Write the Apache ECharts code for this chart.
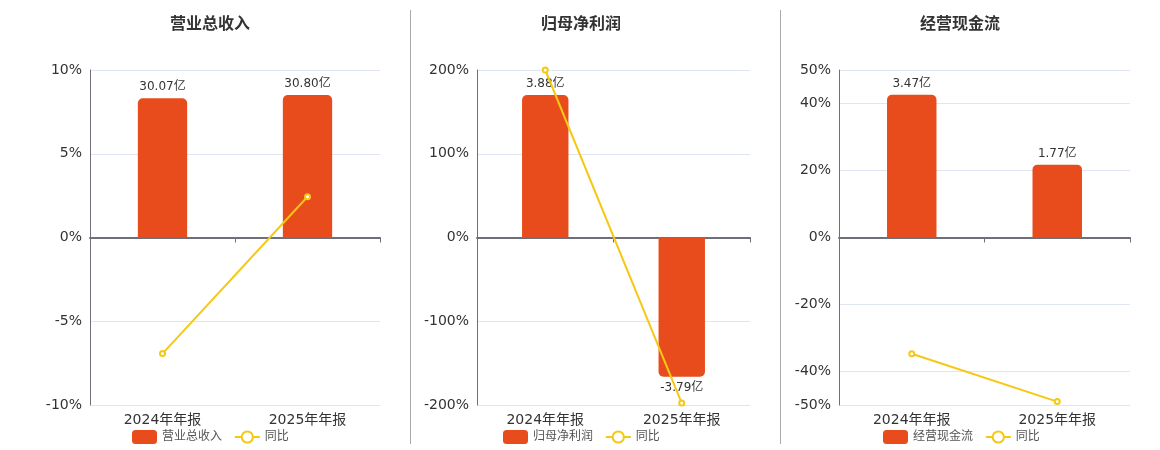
<!DOCTYPE html>
<html>
<head>
<meta charset="utf-8">
<script src="https://cdn.jsdelivr.net/npm/echarts@6/dist/echarts.min.js"></script>
<style>
html,body{margin:0;padding:0;background:#fff;}
#c{width:1160px;height:450px;}
</style>
</head>
<body>
<div id="c"></div>
<script>
const categories = ['2024年年报', '2025年年报'];
const titles = ['营业总收入', '归母净利润', '经营现金流'];
const barNames = ['营业总收入', '归母净利润', '经营现金流'];
const revenue = [30.07, 30.80];
const revenueYoY = [-6.93, 2.43];
const netProfit = [3.88, -3.79];
const netProfitYoY = [200, -197.7];
const cashFlow = [3.47, 1.77];
const cashFlowYoY = [-34.7, -48.99];
const pctTicks = [
  [-10, -5, 0, 5, 10],
  [-200, -100, 0, 100, 200],
  [-50, -40, -20, 0, 20, 40, 50]
];
const barAxisMax = [36.2, 4.56, 4.07];

const barData = [revenue, netProfit, cashFlow];
const lineData = [revenueYoY, netProfitYoY, cashFlowYoY];

const grids = [
  {left: 90, width: 290, top: 70, height: 335},
  {left: 477, width: 273, top: 70, height: 335},
  {left: 839, width: 291, top: 70, height: 335}
];
const centers = [205, 576, 955];
const legendLefts = [127, 498, 878];

const FONT = '"DejaVu Sans", "Noto Sans CJK SC", sans-serif';
const BAR = '#e84c1d';
const LINE = '#f5c814';

const option = {
  animation: false,
  textStyle: {fontFamily: FONT},
  title: titles.map((t, i) => ({
    text: t, left: centers[i], top: 12, textAlign: 'center',
    textStyle: {fontSize: 16, fontWeight: 'bold', color: '#333', fontFamily: FONT}
  })),
  legend: titles.map((t, i) => ({
    data: [barNames[i] + ' ', '同比' + ' '.repeat(i)],
    left: legendLefts[i], top: 425, itemWidth: 25, itemHeight: 14,
    textStyle: {fontSize: 12, color: '#555', fontFamily: FONT}
  })),
  grid: grids.map(g => Object.assign({containLabel: false}, g)),
  xAxis: [],
  yAxis: [],
  series: [],
  graphic: [
    {type: 'line', shape: {x1: 410.5, y1: 10, x2: 410.5, y2: 444}, style: {stroke: '#aaa', lineWidth: 1}},
    {type: 'line', shape: {x1: 780.5, y1: 10, x2: 780.5, y2: 444}, style: {stroke: '#aaa', lineWidth: 1}}
  ]
};

for (let i = 0; i < 3; i++) {
  const ticks = pctTicks[i];
  // label axis at bottom
  option.xAxis.push({
    type: 'category', gridIndex: i, data: categories, position: 'bottom',
    axisLine: {show: false, onZero: false}, axisTick: {show: false},
    axisLabel: {fontSize: 14, color: '#333', margin: 8, fontFamily: FONT}
  });
  // zero line axis
  option.xAxis.push({
    type: 'category', gridIndex: i, data: categories, position: 'bottom',
    axisLine: {show: true, onZero: true, onZeroAxisIndex: i * 2, lineStyle: {color: '#6e7079', width: 2}},
    axisTick: {show: true, length: 5, lineStyle: {color: '#6e7079'}},
    axisLabel: {show: false}
  });
  option.yAxis.push({
    type: 'value', gridIndex: i, min: ticks[0], max: ticks[ticks.length - 1],
    axisLine: {show: true, lineStyle: {color: '#6e7079'}},
    axisTick: {show: false, customValues: ticks},
    axisLabel: {fontSize: 14, color: '#333', formatter: '{value}%', fontFamily: FONT, customValues: ticks},
    splitLine: {show: true, lineStyle: {color: '#e0e6f1'}}
  });
  option.yAxis.push({
    type: 'value', gridIndex: i, min: -barAxisMax[i], max: barAxisMax[i], show: false,
    splitLine: {show: false}
  });
  option.series.push({
    name: barNames[i] + ' ', type: 'bar', xAxisIndex: i * 2, yAxisIndex: i * 2 + 1,
    barWidth: '34%', color: BAR,
    data: barData[i].map(v => ({
      value: v,
      itemStyle: {color: BAR, borderRadius: v >= 0 ? [5, 5, 0, 0] : [0, 0, 5, 5]},
      label: {show: true, position: v >= 0 ? 'top' : 'bottom', formatter: v.toFixed(2) + '亿',
        fontSize: 12, color: '#333', fontFamily: FONT}
    })),
    z: 2
  });
  option.series.push({
    name: '同比' + ' '.repeat(i), type: 'line', xAxisIndex: i * 2, yAxisIndex: i * 2,
    data: lineData[i], color: LINE,
    symbol: 'emptyCircle', symbolSize: 5,
    lineStyle: {color: LINE, width: 2},
    itemStyle: {color: LINE, borderWidth: 2},
    z: 5
  });
}

const chart = echarts.init(document.getElementById('c'));
chart.setOption(option);
</script>
</body>
</html>
